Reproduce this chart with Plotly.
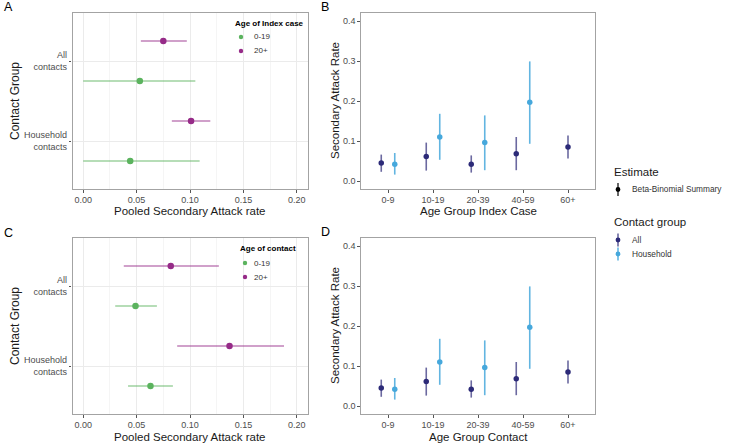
import plotly.graph_objects as go

# ---------------- data ----------------
contact_groups = ["All contacts", "Household contacts"]
contact_ticktext = ["All<br>contacts", "Household<br>contacts"]
pooled_ticks = [0.00, 0.05, 0.10, 0.15, 0.20]

# Panel A: pooled SAR by age of index case (order = contact_groups)
a_0_19_est = [0.053, 0.044]
a_0_19_lo = [0.000, 0.000]
a_0_19_hi = [0.105, 0.109]
a_20p_est = [0.075, 0.101]
a_20p_lo = [0.054, 0.083]
a_20p_hi = [0.097, 0.119]

# Panel C: pooled SAR by age of contact
c_0_19_est = [0.049, 0.063]
c_0_19_lo = [0.030, 0.042]
c_0_19_hi = [0.069, 0.084]
c_20p_est = [0.082, 0.137]
c_20p_lo = [0.038, 0.088]
c_20p_hi = [0.127, 0.188]

age_groups = ["0-9", "10-19", "20-39", "40-59", "60+"]
sar_ticks = [0.0, 0.1, 0.2, 0.3, 0.4]

# Panel B: SAR by age group of index case
b_all_est = [0.045, 0.061, 0.042, 0.068, 0.085]
b_all_lo = [0.023, 0.026, 0.021, 0.027, 0.056]
b_all_hi = [0.066, 0.096, 0.064, 0.110, 0.114]
b_hh_est = [0.042, 0.110, 0.096, 0.197, None]
b_hh_lo = [0.016, 0.053, 0.027, 0.093, None]
b_hh_hi = [0.070, 0.168, 0.164, 0.299, None]

# Panel D: SAR by age group of contact
d_all_est = [0.045, 0.061, 0.042, 0.068, 0.085]
d_all_lo = [0.023, 0.026, 0.021, 0.027, 0.056]
d_all_hi = [0.066, 0.096, 0.064, 0.110, 0.114]
d_hh_est = [0.042, 0.110, 0.096, 0.197, None]
d_hh_lo = [0.016, 0.053, 0.027, 0.093, None]
d_hh_hi = [0.070, 0.168, 0.164, 0.299, None]

age_legend_labels = ["0-19", "20+"]
contact_legend_labels = ["All", "Household"]
estimate_label = "Beta-Binomial Summary"

# ---------------- style ----------------
W, H = 729, 443
FONT = "Liberation Sans, Arial, sans-serif"
GREEN, GREEN_BAR = "#5BB35E", "rgba(91,179,94,0.6)"
PURPLE, PURPLE_BAR = "#962B88", "rgba(150,43,136,0.6)"
NAVY, NAVY_BAR = "#2C2A78", "rgba(44,42,120,0.7)"
LBLUE, LBLUE_BAR = "#46A8DC", "rgba(70,168,220,0.85)"
FRAME = "#A3A3A3"
TICKC = "#4D4D4D"


def px_x(p):
    return p / W


def px_y(p):
    return 1 - p / H


fig = go.Figure()

# ---- horizontal pooled panels (A, C) ----
def pooled_panel(xa, ya, groups):
    n = len(contact_groups)
    for est, lo, hi, col, bar, off in groups:
        ys = [n - i + off for i in range(n)]
        fig.add_trace(go.Scatter(
            x=est, y=ys, mode="markers", xaxis=xa, yaxis=ya, showlegend=False,
            marker=dict(size=6.5, color=col),
            error_x=dict(type="data", symmetric=False,
                         array=[h - e for h, e in zip(hi, est)],
                         arrayminus=[e - l for e, l in zip(est, lo)],
                         thickness=1.6, width=0, color=bar),
        ))


pooled_panel("x", "y", [
    (a_0_19_est, a_0_19_lo, a_0_19_hi, GREEN, GREEN_BAR, -0.25),
    (a_20p_est, a_20p_lo, a_20p_hi, PURPLE, PURPLE_BAR, 0.25),
])
pooled_panel("x3", "y3", [
    (c_0_19_est, c_0_19_lo, c_0_19_hi, GREEN, GREEN_BAR, -0.25),
    (c_20p_est, c_20p_lo, c_20p_hi, PURPLE, PURPLE_BAR, 0.25),
])


# ---- vertical age panels (B, D) ----
def age_panel(xa, ya, groups):
    dodge = 0.3
    for gi, (est, lo, hi, col, bar) in enumerate(groups):
        xs, ys, up, dn = [], [], [], []
        for i in range(len(age_groups)):
            if est[i] is None:
                continue
            present = [g for g in range(len(groups)) if groups[g][0][i] is not None]
            k = present.index(gi)
            off = (k - (len(present) - 1) / 2) * dodge
            xs.append(i + off)
            ys.append(est[i])
            up.append(hi[i] - est[i])
            dn.append(est[i] - lo[i])
        fig.add_trace(go.Scatter(
            x=xs, y=ys, mode="markers", xaxis=xa, yaxis=ya, showlegend=False,
            marker=dict(size=5.5, color=col),
            error_y=dict(type="data", symmetric=False, array=up, arrayminus=dn,
                         thickness=1.6, width=0, color=bar),
        ))


age_panel("x2", "y2", [
    (b_all_est, b_all_lo, b_all_hi, NAVY, NAVY_BAR),
    (b_hh_est, b_hh_lo, b_hh_hi, LBLUE, LBLUE_BAR),
])
age_panel("x4", "y4", [
    (d_all_est, d_all_lo, d_all_hi, NAVY, NAVY_BAR),
    (d_hh_est, d_hh_lo, d_hh_hi, LBLUE, LBLUE_BAR),
])

# ---------------- axes ----------------
tickfont = dict(family=FONT, size=9, color=TICKC)
common = dict(showline=True, mirror=True, linecolor=FRAME, linewidth=1.3,
              ticks="outside", ticklen=2.5, tickwidth=1, tickcolor="#555555",
              tickfont=tickfont, zeroline=False)

top = (px_y(189), px_y(13))
bot = (px_y(414), px_y(238))
left_dom = (px_x(72.5), px_x(307.5))
right_dom = (px_x(361), px_x(595))

pooled_x = dict(range=[-0.01, 0.21], tickvals=pooled_ticks,
                ticktext=[f"{v:.2f}" for v in pooled_ticks],
                showgrid=True, gridcolor="#EBEBEB", gridwidth=1,
                minor=dict(dtick=0.025, tick0=0, showgrid=True,
                           gridcolor="#F5F5F5", gridwidth=0.6, ticks=""),
                **common)
pooled_y = dict(range=[0.4, 2.6],
                tickvals=[len(contact_groups) - i for i in range(len(contact_groups))],
                ticktext=contact_ticktext, showgrid=True, gridcolor="#EBEBEB",
                gridwidth=1, **common)
age_x = dict(range=[-0.6, len(age_groups) - 0.4],
             tickvals=list(range(len(age_groups))), ticktext=age_groups,
             showgrid=False, **common)
age_y = dict(range=[-0.02, 0.42], tickvals=sar_ticks,
             ticktext=[f"{v:.1f}" for v in sar_ticks], showgrid=False, **common)

fig.update_layout(
    width=W, height=H, margin=dict(l=0, r=0, t=0, b=0),
    paper_bgcolor="white", plot_bgcolor="white", showlegend=False,
    font=dict(family=FONT),
    xaxis=dict(domain=left_dom, anchor="y", **pooled_x),
    yaxis=dict(domain=top, anchor="x", **pooled_y),
    xaxis2=dict(domain=right_dom, anchor="y2", **age_x),
    yaxis2=dict(domain=top, anchor="x2", **age_y),
    xaxis3=dict(domain=left_dom, anchor="y3", **pooled_x),
    yaxis3=dict(domain=bot, anchor="x3", **pooled_y),
    xaxis4=dict(domain=right_dom, anchor="y4", **age_x),
    yaxis4=dict(domain=bot, anchor="x4", **age_y),
)

# ---------------- text ----------------
anns = []


def ann(text, x, y, size, xanchor="center", color="#1A1A1A", angle=0):
    anns.append(dict(text=text, x=px_x(x), y=px_y(y), xref="paper", yref="paper",
                     xanchor=xanchor, yanchor="middle", showarrow=False,
                     textangle=angle, font=dict(family=FONT, size=size, color=color)))


# panel letters
ann("A", 2, 6.5, 12.5, "left", "black")
ann("B", 319, 6.5, 12.5, "left", "black")
ann("C", 2, 233, 12.5, "left", "black")
ann("D", 319, 232, 12.5, "left", "black")

# axis titles
ann("Pooled Secondary Attack rate", 190, 211, 11.5)
ann("Pooled Secondary Attack rate", 190, 436.5, 11.5)
ann("Age Group Index Case", 478, 211, 11.5)
ann("Age Group Contact", 478, 436.5, 11.5)
ann("Contact Group", 15, 101, 12, angle=-90)
ann("Contact Group", 15, 326, 12, angle=-90)
ann("Secondary Attack Rate", 335, 101, 11.5, angle=-90)
ann("Secondary Attack Rate", 335, 326, 11.5, angle=-90)

shapes = []


def dot(cx, cy, r, col):
    shapes.append(dict(type="circle", xref="paper", yref="paper",
                       x0=px_x(cx - r), x1=px_x(cx + r), y0=px_y(cy + r), y1=px_y(cy - r),
                       fillcolor=col, line=dict(width=0)))


def vline(cx, y0, y1, col):
    shapes.append(dict(type="line", xref="paper", yref="paper",
                       x0=px_x(cx), x1=px_x(cx), y0=px_y(y0), y1=px_y(y1),
                       line=dict(color=col, width=1.6)))


# inside legends for A and C
def inside_legend(title, tx, ty, kx, lx, cols):
    ann(f"<b>{title}</b>", tx, ty, 8, "left", "black")
    for i, (lab, col) in enumerate(zip(age_legend_labels, cols)):
        yy = ty + 14 * (i + 1)
        dot(kx, yy, 2.2, col)
        ann(lab, lx, yy, 8, "left", "#333333")


inside_legend("Age of Index case", 233, 23, 241, 252, [GREEN, PURPLE])
inside_legend("Age of contact", 238, 249, 245, 251.5, [GREEN, PURPLE])

# right legends
ann("Estimate", 612, 172, 11.5, "left", "#1A1A1A")
vline(618, 183, 196, "rgba(0,0,0,0.75)")
dot(618, 189.5, 2.4, "black")
ann(estimate_label, 630, 189.5, 8.3, "left", "#333333")

ann("Contact group", 612, 222, 11.5, "left", "#1A1A1A")
for i, (lab, col, bar) in enumerate(zip(contact_legend_labels, [NAVY, LBLUE], [NAVY_BAR, LBLUE_BAR])):
    yy = 240 + 14 * i
    vline(618, yy - 6.5, yy + 6.5, bar)
    dot(618, yy, 2.4, col)
    ann(lab, 630, yy, 8.3, "left", "#333333")

fig.update_layout(annotations=anns, shapes=shapes)
fig.write_html("out.html", config={"displayModeBar": False},
               post_script="document.body.style.margin='0';document.body.style.overflow='hidden';")
